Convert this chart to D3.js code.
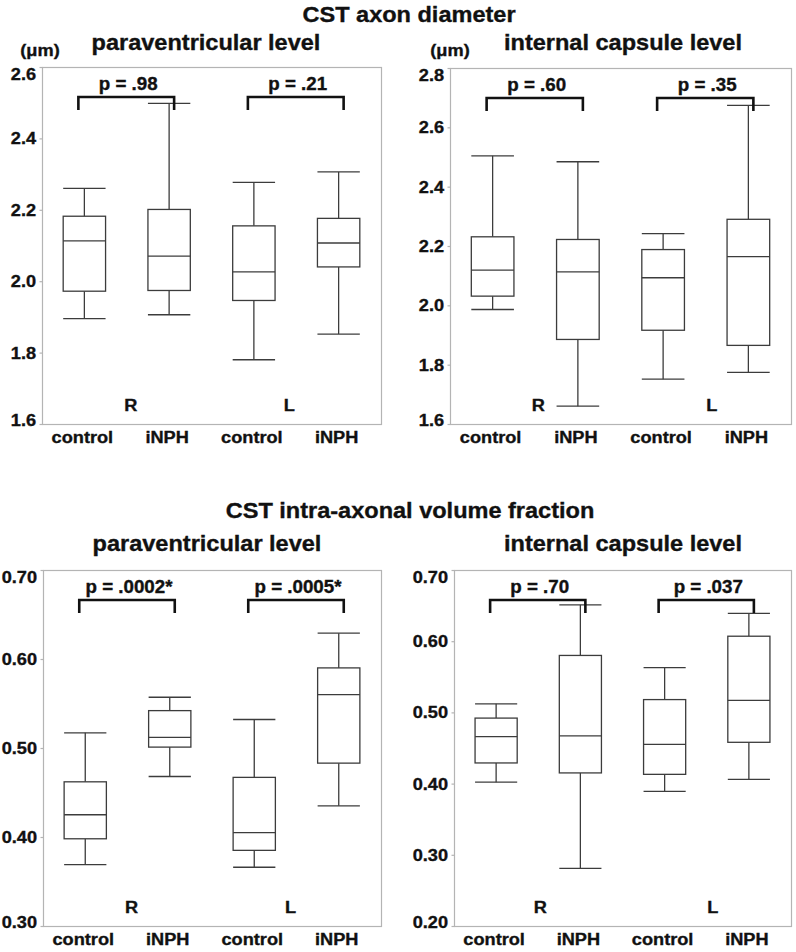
<!DOCTYPE html>
<html><head><meta charset="utf-8">
<script src="https://cdn.jsdelivr.net/npm/d3@7"></script>
<style>html,body{margin:0;padding:0;background:#fff;}svg{display:block;}</style>
</head><body>
<script>
// ---------- data ----------
const xLabels = ["control", "iNPH", "control", "iNPH"];
const sideLabels = ["R", "L"];
const title1 = "CST axon diameter";
const title2 = "CST intra-axonal volume fraction";
const subPV = "paraventricular level";
const subIC = "internal capsule level";
const unitLabel = "(μm)";

// CST axon diameter – paraventricular level
const diamPV_min = [1.895, 1.906, 1.780, 1.852];
const diamPV_q1  = [1.972, 1.974, 1.946, 2.040];
const diamPV_med = [2.113, 2.070, 2.026, 2.107];
const diamPV_q3  = [2.182, 2.201, 2.155, 2.176];
const diamPV_max = [2.260, 2.498, 2.277, 2.306];
const diamPV_p   = ["p = .98", "p = .21"];
const diamPV_ticks = [1.6, 1.8, 2.0, 2.2, 2.4, 2.6];

// CST axon diameter – internal capsule level
const diamIC_min = [1.986, 1.660, 1.751, 1.774];
const diamIC_q1  = [2.031, 1.885, 1.916, 1.865];
const diamIC_med = [2.119, 2.113, 2.093, 2.164];
const diamIC_q3  = [2.231, 2.222, 2.188, 2.290];
const diamIC_max = [2.504, 2.484, 2.242, 2.674];
const diamIC_p   = ["p = .60", "p = .35"];
const diamIC_ticks = [1.6, 1.8, 2.0, 2.2, 2.4, 2.6, 2.8];

// CST intra-axonal volume fraction – paraventricular level
const volPV_min = [0.369, 0.468, 0.366, 0.435];
const volPV_q1  = [0.398, 0.501, 0.385, 0.483];
const volPV_med = [0.425, 0.512, 0.405, 0.560];
const volPV_q3  = [0.462, 0.542, 0.467, 0.590];
const volPV_max = [0.517, 0.557, 0.532, 0.629];
const volPV_p   = ["p = .0002*", "p = .0005*"];
const volPV_ticks = [0.30, 0.40, 0.50, 0.60, 0.70];

// CST intra-axonal volume fraction – internal capsule level
const volIC_min = [0.402, 0.281, 0.389, 0.406];
const volIC_q1  = [0.429, 0.415, 0.413, 0.458];
const volIC_med = [0.466, 0.467, 0.455, 0.517];
const volIC_q3  = [0.492, 0.580, 0.518, 0.607];
const volIC_max = [0.512, 0.651, 0.563, 0.639];
const volIC_p   = ["p = .70", "p = .037"];
const volIC_ticks = [0.20, 0.30, 0.40, 0.50, 0.60, 0.70];

// ---------- layout ----------
const W = 796, H = 952;
const FONT = "'Liberation Sans', Arial, Helvetica, sans-serif";
const SX = 1.07; // slight horizontal stretch of the original lettering
const BOX_COL = "#3c3c3c", FRAME_COL = "#b4b4b4", BRACKET_COL = "#111";

const svg = d3.select("body").append("svg").attr("width", W).attr("height", H);

function txt(g, x, y, s, size, anchor) {
  return g.append("text")
    .attr("transform", `translate(${x},${y}) scale(${SX},1)`)
    .attr("text-anchor", anchor || "middle")
    .attr("font-family", FONT).attr("font-weight", "bold")
    .attr("font-size", size).attr("fill", "#111")
    .attr("stroke", "#111").attr("stroke-width", 0.35)
    .text(s);
}

txt(svg, 409, 22, title1, 22);
txt(svg, 410, 518, title2, 22);

const panels = [
  {x0: 42, x1: 381, y0: 67, y1: 424, dom: [1.6, 2.6], ticks: diamPV_ticks, fmt: ".1f",
   min: diamPV_min, q1: diamPV_q1, med: diamPV_med, q3: diamPV_q3, max: diamPV_max, p: diamPV_p,
   sub: subPV, subX: 206, subY: 50, unit: true, unitX: 40, unitY: 56, sideOff: [4, -7]},
  {x0: 450, x1: 791, y0: 68, y1: 424, dom: [1.6, 2.8], ticks: diamIC_ticks, fmt: ".1f",
   min: diamIC_min, q1: diamIC_q1, med: diamIC_med, q3: diamIC_q3, max: diamIC_max, p: diamIC_p,
   sub: subIC, subX: 623, subY: 50, unit: true, unitX: 450, unitY: 56, sideOff: [3, 6]},
  {x0: 43, x1: 381, y0: 570, y1: 926, dom: [0.3, 0.7], ticks: volPV_ticks, fmt: ".2f",
   min: volPV_min, q1: volPV_q1, med: volPV_med, q3: volPV_q3, max: volPV_max, p: volPV_p,
   sub: subPV, subX: 207, subY: 551, unit: false, sideOff: [4, -6]},
  {x0: 454, x1: 791, y0: 570, y1: 926, dom: [0.2, 0.7], ticks: volIC_ticks, fmt: ".2f",
   min: volIC_min, q1: volIC_q1, med: volIC_med, q3: volIC_q3, max: volIC_max, p: volIC_p,
   sub: subIC, subX: 623, subY: 551, unit: false, sideOff: [2, 6]}
];

panels.forEach(P => {
  const g = svg.append("g");
  const x = d3.scaleBand().domain(d3.range(4)).range([P.x0, P.x1])
    .paddingInner(0.5).paddingOuter(0.25);
  const y = d3.scaleLinear().domain(P.dom).range([P.y1, P.y0]);
  const bw = x.bandwidth();
  const cx = i => x(i) + bw / 2;

  // subtitle & unit
  txt(g, P.subX, P.subY, P.sub, 22);
  if (P.unit) txt(g, P.unitX, P.unitY, unitLabel, 17);

  // frame
  g.append("rect").attr("x", P.x0 + 0.5).attr("y", P.y0 + 0.5)
    .attr("width", P.x1 - P.x0).attr("height", P.y1 - P.y0)
    .attr("fill", "none").attr("stroke", FRAME_COL).attr("stroke-width", 1.2);

  // y axis
  const ax = g.append("g").attr("transform", `translate(${P.x0 + 0.5},0)`)
    .call(d3.axisLeft(y).tickValues(P.ticks).tickFormat(d3.format(P.fmt))
      .tickSize(3).tickPadding(3));
  ax.select(".domain").remove();
  ax.selectAll(".tick line").attr("stroke", FRAME_COL).attr("stroke-width", 1.2);
  const nT = P.ticks.length;
  ax.selectAll(".tick text")
    .attr("font-family", FONT).attr("font-weight", "bold").attr("font-size", 17)
    .attr("fill", "#111").attr("stroke", "#111").attr("stroke-width", 0.35)
    .attr("transform", `scale(${SX},1)`)
    // end labels are kept inside the frame, as in the original
    .each(function (d, i) {
      if (i === nT - 1) d3.select(this).attr("dy", null).attr("y", 12);
      else if (i === 0) d3.select(this).attr("dy", null).attr("y", 1);
    });

  // boxes
  const idx = d3.range(4);
  const bg = g.append("g").attr("stroke", BOX_COL).attr("stroke-width", 1.3).attr("fill", "none");
  idx.forEach(i => {
    const c = cx(i), l = x(i), r = x(i) + bw;
    bg.append("line").attr("x1", c).attr("x2", c).attr("y1", y(P.max[i])).attr("y2", y(P.q3[i]));
    bg.append("line").attr("x1", c).attr("x2", c).attr("y1", y(P.q1[i])).attr("y2", y(P.min[i]));
    bg.append("line").attr("x1", l).attr("x2", r).attr("y1", y(P.max[i])).attr("y2", y(P.max[i]));
    bg.append("line").attr("x1", l).attr("x2", r).attr("y1", y(P.min[i])).attr("y2", y(P.min[i]));
    bg.append("rect").attr("x", l).attr("y", y(P.q3[i]))
      .attr("width", bw).attr("height", y(P.q1[i]) - y(P.q3[i])).attr("fill", "#fff");
    bg.append("line").attr("x1", l).attr("x2", r).attr("y1", y(P.med[i])).attr("y2", y(P.med[i]));
  });

  // brackets, p values, side labels
  [0, 1].forEach(k => {
    const a = cx(2 * k) - 6, b = cx(2 * k + 1) + 5;
    const top = P.y0 + 30, bot = top + 13;
    g.append("path").attr("d", `M${a},${bot}V${top}H${b}V${bot}`)
      .attr("fill", "none").attr("stroke", BRACKET_COL).attr("stroke-width", 2.6);
    txt(g, (a + b) / 2 + 2, P.y0 + 23, P.p[k], 17.5);
    txt(g, (cx(2 * k) + cx(2 * k + 1)) / 2 + P.sideOff[k], P.y1 - 13, sideLabels[k], 17);
  });

  // x labels
  idx.forEach(i => txt(g, cx(i) - 2, P.y1 + 19, xLabels[i], 17));
});
</script>
</body></html>
